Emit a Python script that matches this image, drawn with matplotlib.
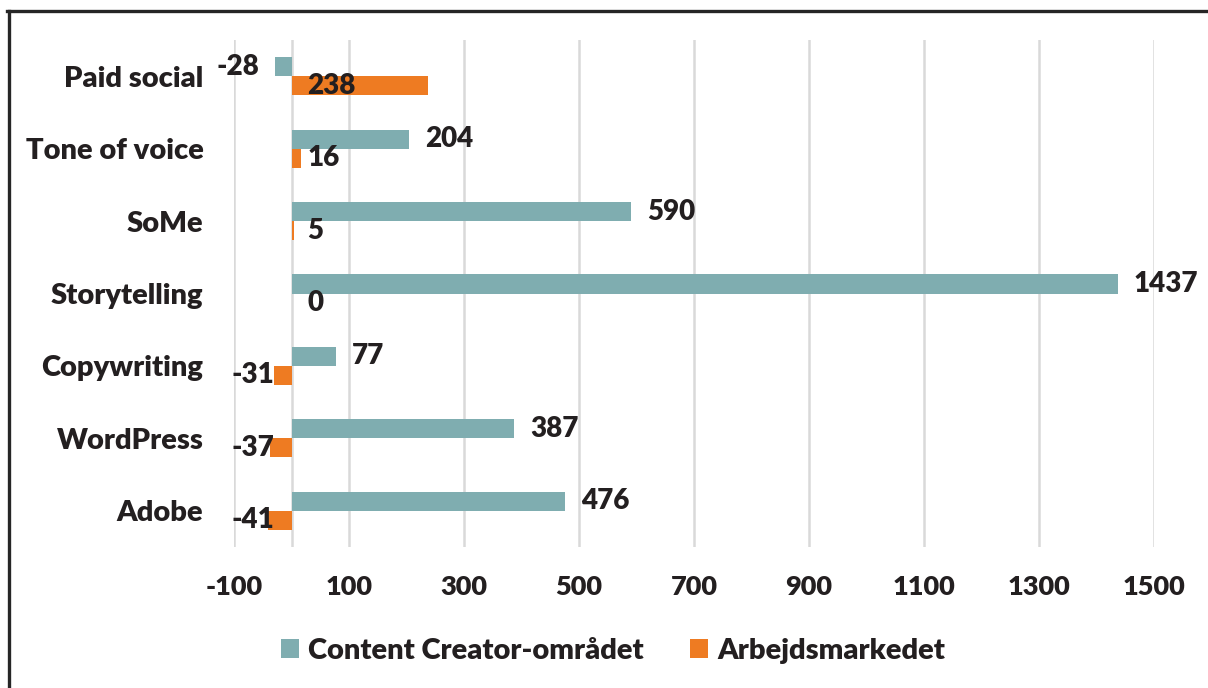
import numpy as np
import matplotlib
matplotlib.use('Agg')
import matplotlib.pyplot as plt
from matplotlib.lines import Line2D

plt.rcParams['font.family'] = ['Lato', 'DejaVu Sans']
plt.rcParams['font.weight'] = 'heavy'

categories = ['Paid social', 'Tone of voice', 'SoMe', 'Storytelling',
              'Copywriting', 'WordPress', 'Adobe']
content_creator = [-28, 204, 590, 1437, 77, 387, 476]
arbejdsmarked = [238, 16, 5, 0, -31, -37, -41]
series_names = ['Content Creator-området', 'Arbejdsmarkedet']
xticks = [-100, 100, 300, 500, 700, 900, 1100, 1300, 1500]

teal = '#7fadb0'
orange = '#ee7b22'
txt = '#231f20'
grid = '#d9d9d9'

fig = plt.figure(figsize=(12.08, 6.88), dpi=100)
ax = fig.add_axes([234 / 1208, 1 - 547 / 688, 920 / 1208, 507 / 688])

y = np.arange(len(categories))
h = 0.2625
ax.barh(y - h / 2, content_creator, height=h, color=teal, zorder=3,
        label=series_names[0])
ax.barh(y + h / 2, arbejdsmarked, height=h, color=orange, zorder=3,
        label=series_names[1])

ax.set_xlim(-100, 1500)
ax.set_ylim(len(categories) - 0.5, -0.5)
ax.set_xticks(xticks)
ax.set_xticklabels([str(t) for t in xticks])
ax.set_yticks(y)
ax.set_yticklabels(categories)
ax.tick_params(axis='both', length=0, labelcolor=txt)
ax.tick_params(axis='x', pad=20, labelsize=19.5)
ax.tick_params(axis='y', pad=22, labelsize=21)
for s in ax.spines.values():
    s.set_visible(False)
ax.grid(axis='x', color=grid, linewidth=1.8, zorder=0)
ax.axvline(0, color=grid, linewidth=1.8, zorder=1)

off = 11.5  # points
for i, v in enumerate(content_creator):
    d = off if v >= 0 else -off
    ax.annotate(str(v), xy=(v, i - h / 2), xytext=(d, 0),
                textcoords='offset points', va='center',
                ha='left' if v >= 0 else 'right',
                fontsize=20, color=txt, zorder=5)
for i, v in enumerate(arbejdsmarked):
    d = off if v >= 0 else -off * 1.1
    ax.annotate(str(v), xy=(0, i + h / 2), xytext=(d, 0),
                textcoords='offset points', va='center',
                ha='left' if v >= 0 else 'right',
                fontsize=20, color=txt, zorder=5)

fig.legend(loc='center left', bbox_to_anchor=(281 / 1208, 1 - 651 / 688),
           ncol=2, frameon=False, fontsize=21, handlelength=0.62,
           handleheight=0.62, handletextpad=0.3, columnspacing=1.6,
           borderpad=0, borderaxespad=0, labelcolor=txt)

# frame: only top and left edges are visible in the source
fig.add_artist(Line2D([8.5 / 1208, 8.5 / 1208], [0, 1 - 10.5 / 688],
                      transform=fig.transFigure, color='#262626', lw=2.4))
fig.add_artist(Line2D([7.5 / 1208, 1], [1 - 10.5 / 688, 1 - 10.5 / 688],
                      transform=fig.transFigure, color='#262626', lw=2.4))

fig.savefig('out.png', dpi=100)
